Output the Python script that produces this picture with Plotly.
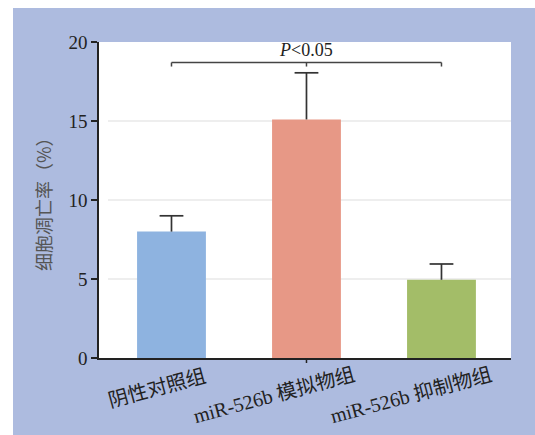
import plotly.graph_objects as go

categories = ["阴性对照组", "miR-526b 模拟物组", "miR-526b 抑制物组"]
values = [8.0, 15.1, 4.95]
errors = [1.0, 2.95, 1.0]
bar_colors = ["#8eb3e0", "#e79886", "#a3bd68"]
y_ticks = [0, 5, 10, 15, 20]
sig_text = "<i>P</i>&lt;0.05"
sig_level = 18.7
y_title = "细胞凋亡率（%）"

W, H = 535, 435
ml, mr, mt, mb = 99, 24, 42, 77
pw, ph = W - ml - mr, H - mt - mb

def px_x(p):
    return (p - ml) / pw

def px_y(p):
    return 1 - (p - mt) / ph

blue_bg = "#adbbdf"
serif = "Liberation Serif, Times New Roman, Noto Sans CJK SC, serif"
err_color = "#333333"

xs = list(range(len(categories)))

fig = go.Figure()
fig.add_trace(go.Bar(
    x=xs,
    y=values,
    width=0.51,
    marker=dict(color=bar_colors, line=dict(width=0)),
    showlegend=False,
    hoverinfo="skip",
))

# upward-only error bars: stems + caps
stem_x, stem_y = [], []
for xi, v, e in zip(xs, values, errors):
    stem_x += [xi, xi, None]
    stem_y += [v, v + e, None]
fig.add_trace(go.Scatter(x=stem_x, y=stem_y, mode="lines",
                         line=dict(color=err_color, width=1.7),
                         showlegend=False, hoverinfo="skip"))
fig.add_trace(go.Scatter(x=xs, y=[v + e for v, e in zip(values, errors)],
                         mode="markers",
                         marker=dict(symbol="line-ew", size=17,
                                     line=dict(color=err_color, width=1.7)),
                         showlegend=False, hoverinfo="skip"))

shapes = []
# white strips outside the blue frame
shapes.append(dict(type="rect", xref="paper", yref="paper",
                   x0=px_x(0), x1=px_x(13), y0=px_y(H), y1=px_y(0),
                   fillcolor="white", line=dict(width=0), layer="below"))
shapes.append(dict(type="rect", xref="paper", yref="paper",
                   x0=px_x(0), x1=px_x(W), y0=px_y(8), y1=px_y(0),
                   fillcolor="white", line=dict(width=0), layer="below"))
# gridlines
for v in y_ticks[1:-1]:
    shapes.append(dict(type="line", xref="paper", yref="y",
                       x0=px_x(108), x1=1, y0=v, y1=v,
                       line=dict(color="#dddddd", width=1), layer="below"))
# middle x tick
shapes.append(dict(type="line", xref="x", yref="paper", x0=1, x1=1,
                   y0=0, y1=-5 / ph, line=dict(color="#222222", width=1.5)))
# significance bracket
drop = 4 * 20 / ph
shapes.append(dict(type="line", xref="x", yref="y", x0=0, x1=2,
                   y0=sig_level, y1=sig_level,
                   line=dict(color="#444444", width=1.5)))
for xi in [0, 1, 2]:
    shapes.append(dict(type="line", xref="x", yref="y", x0=xi, x1=xi,
                       y0=sig_level, y1=sig_level - drop,
                       line=dict(color="#444444", width=1.5)))

annotations = []
annotations.append(dict(text=sig_text, x=1, y=sig_level, xref="x", yref="y",
                        xanchor="center", yanchor="bottom", yshift=1,
                        showarrow=False,
                        font=dict(family=serif, size=18, color="#222222")))
annotations.append(dict(text=y_title, x=0, y=0.5, xref="paper", yref="paper",
                        xanchor="center", yanchor="middle", xshift=-56,
                        textangle=-90, showarrow=False,
                        font=dict(family="Noto Sans CJK SC, sans-serif",
                                  size=18, color="#555555")))
label_shift = [(-14.5, -30), (-32.5, -37), (-30, -37)]
for i, cat in enumerate(categories):
    dx, dy = label_shift[i]
    annotations.append(dict(text=cat, x=i, y=0, xref="x", yref="paper",
                            xanchor="center", yanchor="middle",
                            xshift=dx, yshift=dy, textangle=-15,
                            showarrow=False,
                            font=dict(family=serif, size=20, color="#222222")))

fig.update_layout(
    width=W, height=H,
    margin=dict(l=ml, r=mr, t=mt, b=mb, pad=0),
    paper_bgcolor=blue_bg,
    plot_bgcolor="white",
    shapes=shapes,
    annotations=annotations,
    xaxis=dict(range=[-0.537, 2.515], showticklabels=False, ticks="",
               showgrid=False, zeroline=False, showline=True,
               linecolor="#222222", linewidth=1.5, fixedrange=True),
    yaxis=dict(range=[0, 20], tickvals=y_ticks, ticks="outside", ticklen=6,
               tickwidth=1.5, tickcolor="#222222", showgrid=False,
               zeroline=False, showline=True, linecolor="#222222",
               linewidth=1.5,
               tickfont=dict(family=serif, size=19, color="#222222"),
               fixedrange=True),
)

fig.write_html("out.html")
